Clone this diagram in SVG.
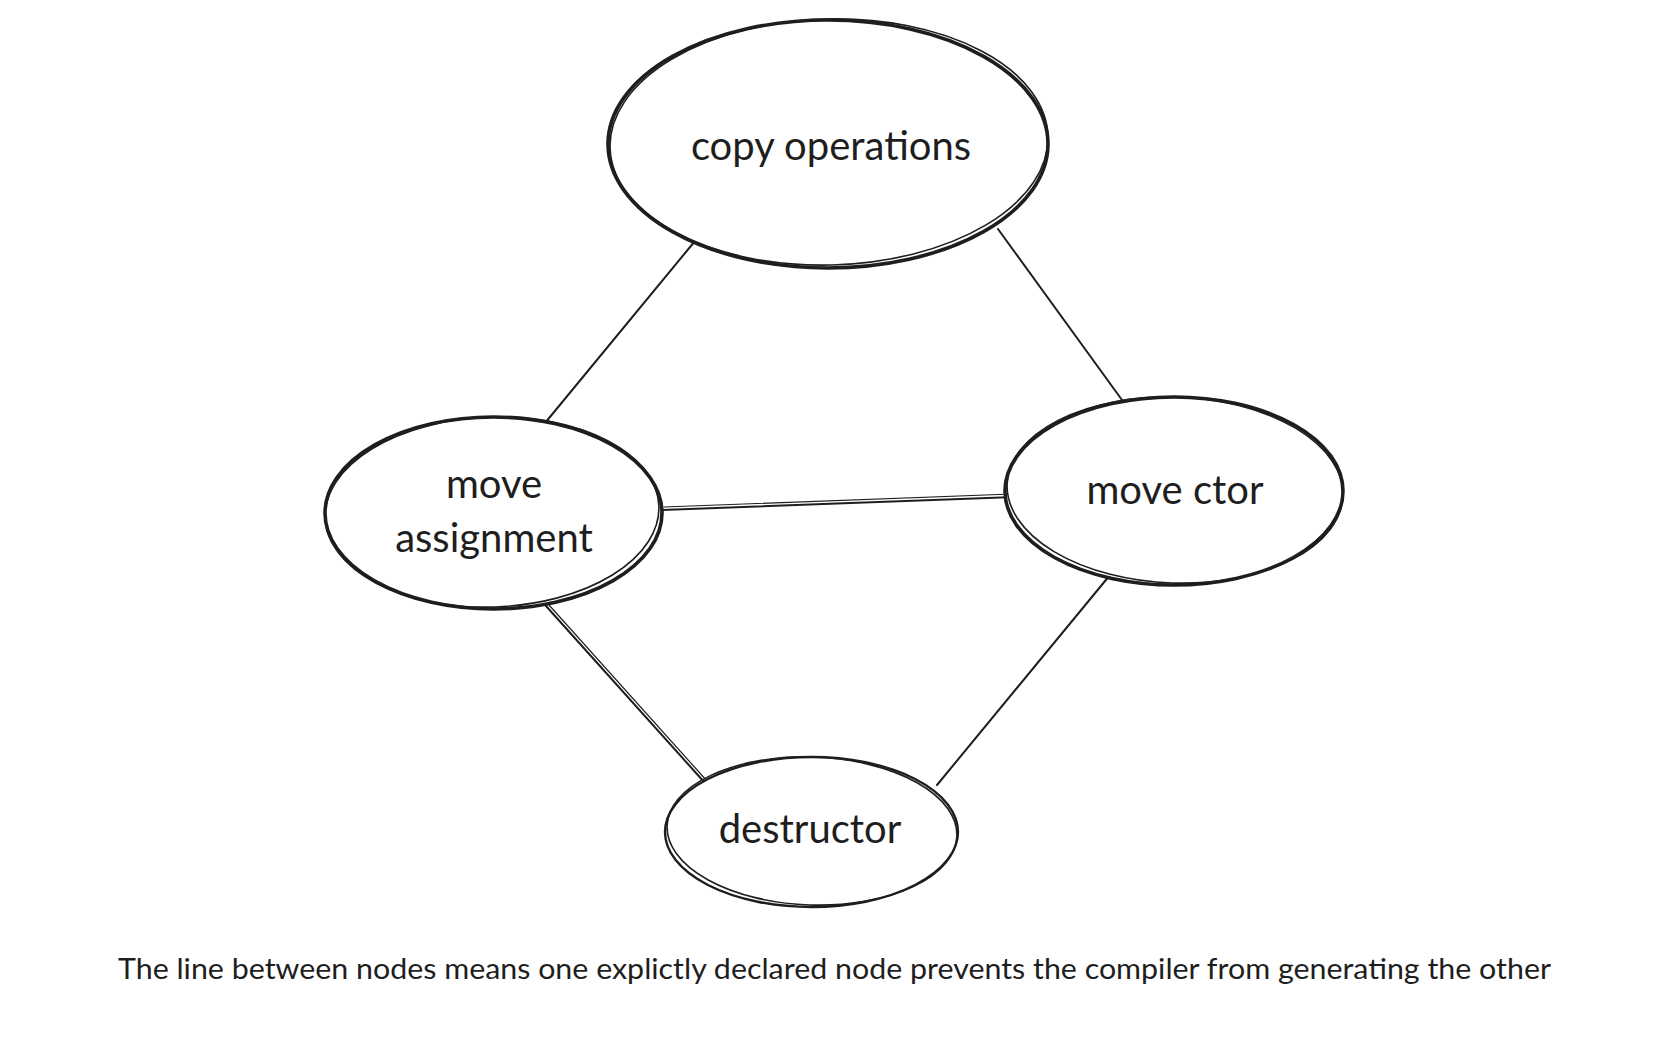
<svg xmlns="http://www.w3.org/2000/svg" width="1672" height="1060" viewBox="0 0 1672 1060">
<style>
.node{fill:#fff;stroke:#1e1e1e;stroke-linecap:round}
.thick{stroke-width:3.6}
.thin{stroke-width:2.4}
.sk{fill:none;stroke:#1e1e1e;stroke-width:1.6}
.lbl{font-family:Lato,"Open Sans","Liberation Sans",sans-serif;font-size:40px;fill:#1e1e1e;text-anchor:middle}
.edge{stroke:#1e1e1e;stroke-width:2;fill:none;stroke-linecap:round}
.edge2{stroke:#1e1e1e;stroke-width:1.2;fill:none;stroke-linecap:round}
.cap{font-family:Lato,"Open Sans","Liberation Sans",sans-serif;font-size:28px;fill:#1e1e1e}
</style>
<rect width="1672" height="1060" fill="#fff"/>
<g id="connectors">
<line class="edge" x1="695" y1="241" x2="545" y2="423"/>
<line class="edge" x1="998" y1="229" x2="1122" y2="400"/>
<line class="edge" x1="662" y1="510" x2="1015" y2="497"/>
<line class="edge2" x1="664" y1="507" x2="1012" y2="494"/>
<line class="edge" x1="546" y1="606" x2="705" y2="783"/>
<line class="edge2" x1="549" y1="605" x2="707" y2="781"/>
<line class="edge" x1="1110" y1="575" x2="937" y2="785"/>
</g>
<g id="node-copy">
<ellipse class="node thick" cx="828" cy="144" rx="220" ry="124"/>
<ellipse class="sk" cx="829" cy="142" rx="219" ry="123" transform="rotate(-1.5 829 142)"/>
<text class="lbl" x="831" y="160">copy operations</text>
</g>
<g id="node-move-assignment">
<ellipse class="node thick" cx="493.5" cy="513" rx="168.5" ry="96"/>
<ellipse class="sk" cx="492" cy="512" rx="167" ry="95" transform="rotate(-2 492 512)"/>
<text class="lbl" x="494" y="498">move</text>
<text class="lbl" x="494" y="552">assignment</text>
</g>
<g id="node-move-ctor">
<ellipse class="node thick" cx="1174" cy="491" rx="169" ry="94"/>
<ellipse class="sk" cx="1175" cy="490" rx="168" ry="93" transform="rotate(2 1175 490)"/>
<text class="lbl" x="1175" y="504">move ctor</text>
</g>
<g id="node-destructor">
<ellipse class="node thin" cx="811.5" cy="832" rx="146.5" ry="75"/>
<ellipse class="sk" cx="812" cy="831" rx="145" ry="74" transform="rotate(2 812 831)"/>
<text class="lbl" x="810" y="843">destructor</text>
</g>
<text class="cap" x="118" y="979" textLength="1433" lengthAdjust="spacingAndGlyphs">The line between nodes means one explictly declared node prevents the compiler from generating the other</text>
</svg>
